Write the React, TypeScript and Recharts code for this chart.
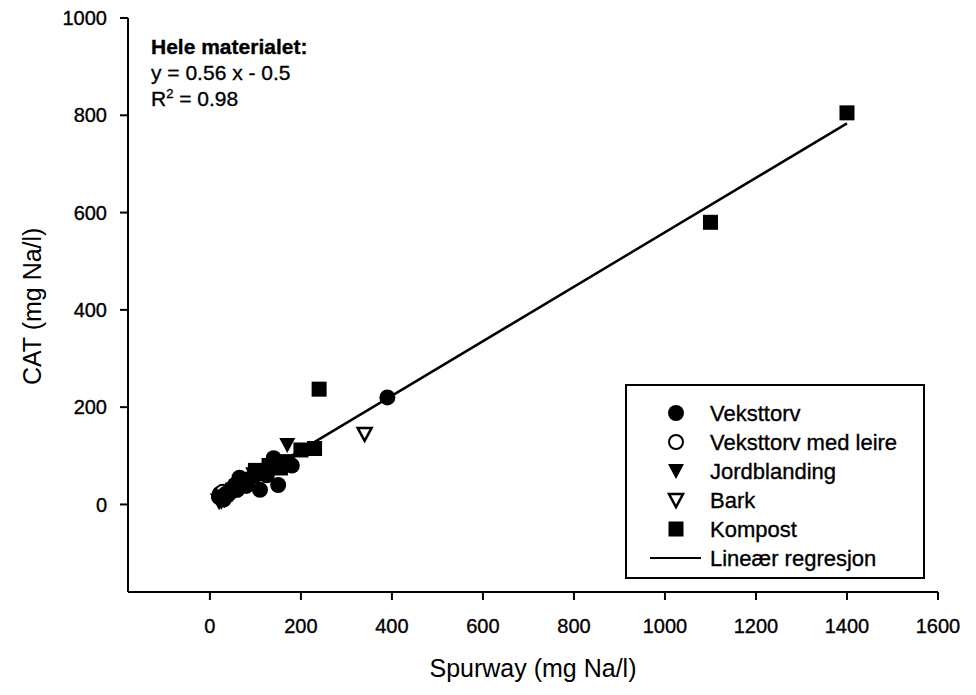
import React from "react";
import {
  ScatterChart,
  Scatter,
  XAxis,
  YAxis,
  ZAxis,
} from "recharts";

// Spurway vs CAT, mg Na/l
const veksttorv = [
  { x: 20, y: 15 }, { x: 30, y: 10 }, { x: 35, y: 22 }, { x: 45, y: 25 },
  { x: 55, y: 40 }, { x: 60, y: 30 }, { x: 65, y: 55 }, { x: 72, y: 45 },
  { x: 80, y: 38 }, { x: 85, y: 52 }, { x: 100, y: 60 }, { x: 110, y: 30 },
  { x: 120, y: 70 }, { x: 125, y: 60 }, { x: 135, y: 80 }, { x: 140, y: 95 },
  { x: 150, y: 40 }, { x: 160, y: 85 }, { x: 180, y: 80 }, { x: 390, y: 220 },
];
const veksttorvLeire = [
  { x: 22, y: 22 }, { x: 28, y: 26 }, { x: 38, y: 18 }, { x: 52, y: 32 },
];
const jordblanding = [
  { x: 25, y: 5 }, { x: 40, y: 15 }, { x: 95, y: 62 }, { x: 170, y: 122 },
];
const bark = [
  { x: 20, y: 8 }, { x: 32, y: 12 }, { x: 340, y: 145 },
];
const kompost = [
  { x: 50, y: 30 }, { x: 70, y: 40 }, { x: 100, y: 70 }, { x: 130, y: 80 },
  { x: 155, y: 75 }, { x: 170, y: 88 }, { x: 200, y: 112 }, { x: 230, y: 115 },
  { x: 240, y: 237 }, { x: 1100, y: 580 }, { x: 1400, y: 805 },
];

// fitted line: y = 0.56 x - 0.5
const slope = 0.56;
const intercept = -0.5;
const fitRange = [20, 1400];
const regression = fitRange.map((x) => ({ x, y: slope * x + intercept }));

const xTicks = [0, 200, 400, 600, 800, 1000, 1200, 1400, 1600];
const yTicks = [0, 200, 400, 600, 800, 1000];

const FONT = "'Liberation Sans', Arial, sans-serif";
// slightly heavier strokes on text
const ink = { fill: "#000", stroke: "#000", strokeWidth: 0.35 };

const Dot = ({ cx, cy }: any) => <circle cx={cx} cy={cy} r={8} fill="#000" />;
const OpenDot = ({ cx, cy }: any) => (
  <circle cx={cx} cy={cy} r={7} fill="#fff" stroke="#000" strokeWidth={2} />
);
const Tri = ({ cx, cy }: any) => (
  <path d={`M${cx - 8},${cy - 7} L${cx + 8},${cy - 7} L${cx},${cy + 8} Z`} fill="#000" />
);
const OpenTri = ({ cx, cy }: any) => (
  <path
    d={`M${cx - 7},${cy - 6} L${cx + 7},${cy - 6} L${cx},${cy + 7} Z`}
    fill="#fff"
    stroke="#000"
    strokeWidth={2.5}
  />
);
const Sq = ({ cx, cy }: any) => (
  <rect x={cx - 7.5} y={cy - 7.5} width={15} height={15} fill="#000" />
);
const NoDot = () => null;

const legendRows = [
  { name: "Veksttorv", Shape: Dot },
  { name: "Veksttorv med leire", Shape: OpenDot },
  { name: "Jordblanding", Shape: Tri },
  { name: "Bark", Shape: OpenTri },
  { name: "Kompost", Shape: Sq },
];

export default function App() {
  return (
    <div style={{ position: "absolute", left: 0, top: 0, width: 976, height: 695, background: "#fff", fontFamily: FONT }}>
      <ScatterChart width={976} height={695} margin={{ top: 18, right: 38, left: 0, bottom: 0 }}>
        <XAxis
          type="number"
          dataKey="x"
          domain={[-180, 1600]}
          ticks={xTicks}
          allowDataOverflow
          height={103}
          tickSize={8}
          tickMargin={19}
          tick={{ ...ink, fontSize: 20, fontFamily: FONT }}
          stroke="#000"
          strokeWidth={2}
          label={{ value: "Spurway (mg Na/l)", position: "insideBottom", offset: 18, fill: "#000", fontSize: 25, fontFamily: FONT }}
        />
        <XAxis xAxisId="top" type="number" orientation="top" domain={[-180, 1600]} height={0} tick={false} tickLine={false} stroke="#555" strokeWidth={2} />
        <YAxis
          type="number"
          dataKey="y"
          domain={[-180, 1000]}
          ticks={yTicks}
          allowDataOverflow
          width={128}
          tickSize={8}
          tickMargin={13}
          tick={{ ...ink, fontSize: 20, fontFamily: FONT }}
          stroke="#000"
          strokeWidth={2}
          label={{ value: "CAT (mg Na/l)", angle: -90, position: "insideLeft", offset: 32, dy: 80, fill: "#000", fontSize: 25, fontFamily: FONT }}
        />
        <YAxis yAxisId="right" type="number" orientation="right" domain={[-180, 1000]} width={0} tick={false} tickLine={false} stroke="#000" strokeWidth={2} />
        <ZAxis range={[64, 64]} />
        <Scatter data={regression} shape={NoDot} line={{ stroke: "#000", strokeWidth: 2.5 }} isAnimationActive={false} />
        <Scatter data={veksttorvLeire} shape={OpenDot} isAnimationActive={false} />
        <Scatter data={bark} shape={OpenTri} isAnimationActive={false} />
        <Scatter data={veksttorv} shape={Dot} isAnimationActive={false} />
        <Scatter data={jordblanding} shape={Tri} isAnimationActive={false} />
        <Scatter data={kompost} shape={Sq} isAnimationActive={false} />
      </ScatterChart>

      <div style={{ position: "absolute", left: 151, top: 34, fontSize: 21, lineHeight: "26px", color: "#000", WebkitTextStroke: "0.35px #000" }}>
        <div style={{ fontWeight: "bold" }}>Hele materialet:</div>
        <div>y = 0.56 x - 0.5</div>
        <div>
          R<sup style={{ fontSize: 13, lineHeight: 0 }}>2</sup> = 0.98
        </div>
      </div>

      <svg style={{ position: "absolute", left: 625, top: 384 }} width={300} height={195}>
        <rect x={1} y={1} width={298} height={193} fill="#fff" stroke="#000" strokeWidth={2} />
        {legendRows.map((r, i) => (
          <g key={r.name}>
            <r.Shape cx={51} cy={29 + i * 29} />
            <text x={85} y={29 + i * 29} dy="0.35em" fontSize={22} fontFamily={FONT} {...ink}>
              {r.name}
            </text>
          </g>
        ))}
        <line x1={25} x2={76} y1={174} y2={174} stroke="#000" strokeWidth={2} />
        <text x={85} y={174} dy="0.35em" fontSize={22} fontFamily={FONT} {...ink}>
          Lineær regresjon
        </text>
      </svg>
    </div>
  );
}
